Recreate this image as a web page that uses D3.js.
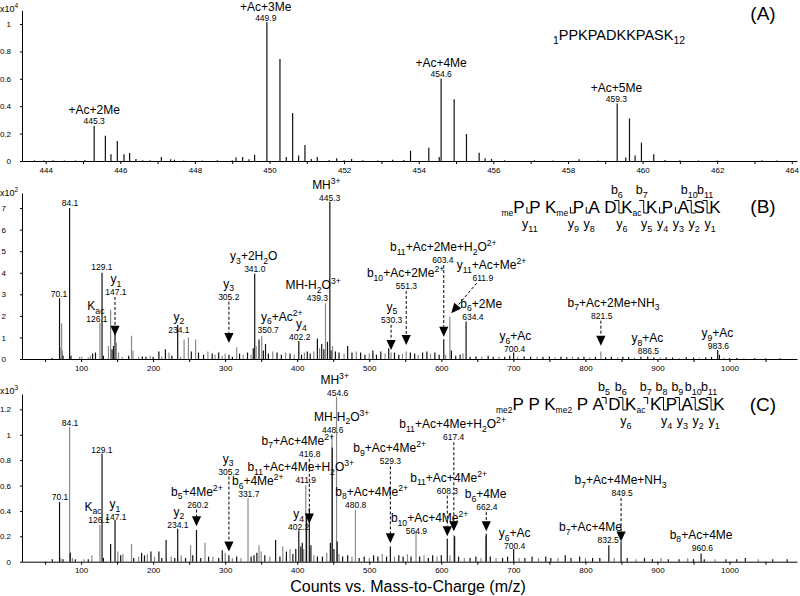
<!DOCTYPE html>
<html>
<head>
<meta charset="utf-8">
<script src="https://cdn.jsdelivr.net/npm/d3@7"></script>
<style>
	body { margin: 0; background: #fff; }
	svg { display: block; }
	text { font-family: "Liberation Sans", Arial, Helvetica, sans-serif; fill: #000; }
</style>
</head>
<body>
<div class="canva"></div>
<script>
// ---- panel A: precursor isotope clusters (x10^4) ----
const peaksA = [
	[443.7, 0.005], [443.95, 0.004], [444.2, 0.005], [444.5, 0.004], [444.8, 0.004], [445.05, 0.006],
	[445.3, 0.255], [445.6, 0.185], [445.75, 0.05], [445.92, 0.146], [446.1, 0.05], [446.25, 0.058],
	[446.42, 0.015], [446.6, 0.006], [446.8, 0.005], [447.1, 0.03], [447.35, 0.012], [447.45, 0.01],
	[447.7, 0.004], [448.2, 0.004], [448.6, 0.005], [449.0, 0.006], [449.1, 0.025], [449.28, 0.03],
	[449.45, 0.012], [449.6, 0.045], [449.93, 1.015], [450.28, 0.745], [450.45, 0.03], [450.62, 0.35],
	[450.78, 0.04], [450.95, 0.117], [451.12, 0.015], [451.28, 0.03], [451.6, 0.008], [451.8, 0.02],
	[452.0, 0.006], [452.2, 0.015], [452.5, 0.006], [452.9, 0.004], [453.3, 0.01], [453.6, 0.008],
	[453.78, 0.075], [454.27, 0.097], [454.55, 0.03], [454.6, 0.6], [454.95, 0.45], [455.28, 0.197],
	[455.62, 0.06], [455.78, 0.02], [455.95, 0.015], [456.3, 0.005], [457.1, 0.006], [457.6, 0.004],
	[458.3, 0.012], [458.8, 0.004], [459.32, 0.42], [459.55, 0.025], [459.65, 0.31], [459.8, 0.04],
	[459.97, 0.134], [460.3, 0.05], [460.6, 0.008], [461.0, 0.005], [461.5, 0.004], [462.0, 0.004],
	[463.2, 0.006], [463.6, 0.004]
];
const labelsA = [
	{ mz: 445.3, name: "+Ac+2Me", num: "445.3", at: [445.3, 0.29] },
	{ mz: 449.9, name: "+Ac+3Me", num: "449.9", at: [449.9, 1.045] },
	{ mz: 454.6, name: "+Ac+4Me", num: "454.6", at: [454.6, 0.635] },
	{ mz: 459.3, name: "+Ac+5Me", num: "459.3", at: [459.3, 0.453] }
];

// ---- panel B: MS/MS of 445.3 (x10^2), colour 1 = black, 2 = grey ----
const peaksB = [
	[60, 0.05, 1], [70.1, 2.82, 1], [72, 0.55, 2], [73, 1.65, 2], [74, 0.4, 2], [75, 0.15, 1], [84.1, 7.0, 1],
	[86, 0.15, 1], [98, 0.1, 2], [101, 0.12, 2], [110, 0.08, 2], [113, 0.15, 2], [116, 0.25, 1], [120, 0.3, 1],
	[126.1, 1.67, 2], [129.1, 4.0, 1], [131, 0.15, 1], [138, 0.6, 2], [141, 2.28, 2], [143, 0.45, 1],
	[145, 0.6, 1], [147.1, 1.5, 1], [149, 0.75, 2], [152, 0.3, 2], [157, 0.1, 2], [166, 0.15, 1],
	[170, 1.08, 2], [172, 0.4, 2], [180, 0.1, 2], [185, 0.12, 1], [190, 0.1, 1], [196, 0.15, 2],
	[200, 0.1, 1], [208, 0.35, 1], [212, 0.12, 2], [217, 0.45, 1], [222, 0.3, 2], [226, 0.15, 1],
	[234.1, 1.58, 1], [238, 0.1, 2], [243, 0.9, 2], [249, 1.0, 2], [253, 0.35, 1], [259, 0.9, 2],
	[263, 0.3, 1], [270, 0.2, 1], [276, 0.35, 2], [282, 0.25, 1], [286, 0.2, 2], [291, 0.3, 1],
	[296, 0.15, 2], [300, 0.25, 2], [305.2, 0.2, 1], [310, 0.1, 1], [316, 0.55, 2], [320, 0.25, 1],
	[325, 0.2, 2], [331, 0.3, 1], [336, 0.2, 2], [339, 0.5, 1], [341.0, 3.95, 1], [343, 0.6, 2],
	[347, 0.9, 1], [350.7, 1.08, 2], [353, 0.4, 1], [356, 0.7, 1], [360, 0.25, 1], [366, 0.35, 2],
	[372, 0.3, 1], [378, 0.2, 1], [384, 0.3, 2], [390, 0.25, 1], [396, 0.2, 2], [402.2, 0.84, 1],
	[406, 0.2, 1], [410, 0.3, 2], [414, 0.35, 1], [418, 0.25, 1], [423, 0.35, 2], [428, 0.95, 1],
	[431, 0.5, 2], [434, 0.7, 1], [437, 0.45, 1], [439.3, 2.59, 2], [442, 0.8, 1], [445.3, 7.29, 1],
	[447, 0.4, 1], [449, 0.6, 2], [453, 0.35, 1], [458, 0.3, 1], [465, 0.25, 2], [470, 0.6, 1],
	[476, 0.3, 1], [482, 0.35, 2], [488, 0.3, 1], [494, 0.2, 1], [500, 0.25, 2], [505, 0.4, 1],
	[510, 0.2, 1], [516, 0.35, 1], [522, 0.25, 2], [527, 0.5, 1], [530.3, 0.3, 2], [535, 0.3, 1],
	[541, 0.2, 1], [546, 0.25, 2], [551.3, 0.35, 2], [557, 0.3, 1], [563, 0.25, 1], [568, 0.2, 2],
	[574, 0.3, 1], [580, 0.35, 1], [585, 0.25, 2], [591, 0.3, 1], [597, 0.2, 1], [603.4, 0.92, 1],
	[606, 0.2, 2], [611.9, 1.97, 2], [614, 0.4, 1], [620, 0.15, 1], [626, 0.2, 1], [630, 0.25, 2],
	[634.4, 1.74, 1], [640, 0.1, 1], [648, 0.12, 1], [656, 0.1, 2], [665, 0.15, 1], [672, 0.1, 1],
	[680, 0.12, 2], [688, 0.1, 1], [695, 0.15, 1], [700.4, 0.3, 1], [706, 0.1, 2], [715, 0.12, 1],
	[724, 0.1, 1], [733, 0.12, 2], [741, 0.1, 1], [750, 0.12, 1], [758, 0.08, 2], [766, 0.1, 1],
	[774, 0.08, 1], [782, 0.12, 2], [790, 0.08, 1], [798, 0.1, 1], [806, 0.08, 2], [814, 0.1, 1],
	[821.5, 0.35, 2], [828, 0.08, 1], [836, 0.1, 1], [845, 0.08, 2], [852, 0.1, 1], [860, 0.08, 1],
	[868, 0.07, 2], [877, 0.1, 1], [886.5, 0.12, 1], [895, 0.08, 1], [904, 0.07, 2], [912, 0.08, 1],
	[921, 0.07, 1], [930, 0.06, 2], [940, 0.08, 1], [950, 0.07, 1], [958, 0.06, 2], [967, 0.08, 1],
	[975, 0.1, 1], [983.6, 0.42, 1], [986, 0.2, 1], [992, 0.06, 2], [1000, 0.05, 1], [1010, 0.05, 1],
	[1020, 0.04, 2], [1035, 0.04, 1], [1050, 0.03, 1], [1070, 0.03, 1]
];
const labelsB = [
	{ mz: 84.1, num: "84.1", at: [84.6, 7.22] },
	{ mz: 70.1, num: "70.1", at: [69.3, 3.01] },
	{ mz: 129.1, num: "129.1", at: [128.9, 4.25] },
	{ mz: 126.1, name: "K_{ac}", num: "126.1", at: [122, 1.86], nameMz: 120.6 },
	{ mz: 147.1, name: "y_{1}", num: "147.1", at: [148.4, 3.11], nameMz: 148.4, tip: 1.08 },
	{ mz: 234.1, name: "y_{2}", num: "234.1", at: [235.7, 1.35], nameMz: 235.7 },
	{ mz: 305.2, name: "y_{3}", num: "305.2", at: [305, 2.89], nameMz: 305, tip: 0.74 },
	{ mz: 341.0, name: "y_{3}+2H_{2}O", num: "341.0", at: [341.1, 4.17], nameMz: 339.7 },
	{ mz: 350.7, name: "y_{6}+Ac^{2+}", num: "350.7", at: [359.6, 1.35], nameMz: 378.6 },
	{ mz: 402.2, name: "y_{4}", num: "402.2", at: [403.5, 1.03], nameMz: 405.9 },
	{ mz: 439.3, name: "MH-H_{2}O^{3+}", num: "439.3", at: [428.1, 2.82], nameMz: 422 },
	{ mz: 445.3, name: "MH^{3+}", num: "445.3", at: [445.1, 7.45], nameMz: 440.5 },
	{ mz: 530.3, name: "y_{5}", num: "530.3", at: [531.1, 1.82], nameMz: 531.5, tip: 0.42 },
	{ mz: 551.3, name: "b_{10}+Ac+2Me^{2+}", num: "551.3", at: [551.5, 3.39], nameMz: 550.5, tip: 0.65 },
	{ mz: 603.4, name: "b_{11}+Ac+2Me+H_{2}O^{2+}", num: "603.4", at: [602.2, 4.59], nameMz: 602.8, tip: 1.03 },
	{ mz: 611.9, name: "y_{11}+Ac+Me^{2+}", num: "611.9", at: [657.7, 3.74], nameMz: 669.8, from: [649, 3.52], to: [613.9, 2.12] },
	{ mz: 634.4, name: "b_{6}+2Me", num: "634.4", at: [643.8, 1.96], nameMz: 655.5 },
	{ mz: 700.4, name: "y_{6}+Ac", num: "700.4", at: [701.7, 0.46], nameMz: 702.8 },
	{ mz: 821.5, name: "b_{7}+Ac+2Me+NH_{3}", num: "821.5", at: [822.7, 2.01], nameMz: 839, tip: 0.62 },
	{ mz: 886.5, name: "y_{8}+Ac", num: "886.5", at: [887.5, 0.37], nameMz: 886.1 },
	{ mz: 983.6, name: "y_{9}+Ac", num: "983.6", at: [984.6, 0.6], nameMz: 983.2 }
];

// ---- panel C: MS/MS of 454.6 (x10^3) ----
const peaksC = [
	[60, 0.02, 1], [70.1, 0.47, 1], [72, 0.03, 2], [75, 0.02, 1], [84.1, 1.06, 2], [85, 0.07, 1], [88, 0.03, 2],
	[92, 0.02, 1], [104, 0.02, 2], [110, 0.02, 1], [115, 0.05, 2], [126.1, 0.29, 2], [129.1, 0.85, 1],
	[131, 0.03, 1], [141, 0.14, 1], [147.1, 0.33, 1], [151, 0.08, 2], [155, 0.05, 1], [158, 0.06, 2],
	[170, 0.14, 2], [173, 0.03, 1], [180, 0.04, 2], [184, 0.07, 1], [188, 0.05, 1], [192, 0.06, 2],
	[197, 0.08, 1], [202, 0.04, 2], [208, 0.08, 1], [212, 0.03, 1], [218, 0.17, 1], [225, 0.04, 2],
	[230, 0.03, 1], [234.1, 0.26, 1], [239, 0.05, 2], [245, 0.03, 1], [252, 0.13, 2], [255, 0.05, 1],
	[260.2, 0.25, 1], [266, 0.03, 1], [272, 0.15, 2], [277, 0.04, 1], [283, 0.04, 2], [291, 0.03, 1],
	[296, 0.09, 1], [300, 0.07, 2], [305.2, 0.05, 1], [310, 0.03, 2], [316, 0.04, 1], [322, 0.03, 2],
	[331.7, 0.5, 2], [336, 0.04, 1], [340, 0.05, 1], [344, 0.07, 1], [347, 0.13, 2], [350, 0.08, 2],
	[355, 0.05, 1], [362, 0.04, 2], [370, 0.17, 1], [376, 0.04, 1], [380, 0.12, 2], [385, 0.08, 1],
	[390, 0.1, 2], [394, 0.06, 1], [398, 0.1, 1], [402.2, 0.245, 1], [405, 0.12, 1], [407, 0.15, 1],
	[409, 0.1, 2], [411.9, 0.6, 2], [413, 0.38, 1], [416.8, 0.42, 1], [419, 0.13, 1], [423, 0.05, 2],
	[428, 0.04, 1], [435, 0.04, 1], [441, 0.07, 2], [446, 0.15, 1], [448.3, 1.0, 2], [448.6, 0.9, 1],
	[451, 0.1, 1], [454.6, 1.3, 2], [455.5, 0.16, 1], [458, 0.06, 2], [463, 0.04, 1], [470, 0.05, 1],
	[476, 0.04, 2], [480.8, 0.41, 2], [486, 0.03, 1], [493, 0.04, 1], [500, 0.03, 2], [506, 0.05, 1],
	[512, 0.04, 1], [518, 0.06, 2], [524, 0.04, 1], [529.3, 0.12, 1], [535, 0.04, 2], [541, 0.05, 1],
	[547, 0.04, 1], [553, 0.06, 2], [558, 0.04, 1], [564.9, 0.24, 2], [570, 0.04, 1], [576, 0.05, 2],
	[582, 0.03, 1], [588, 0.05, 1], [594, 0.04, 2], [600, 0.05, 1], [608.3, 0.18, 1], [612, 0.05, 2],
	[617.4, 0.21, 2], [618.5, 0.2, 1], [624, 0.04, 1], [632, 0.03, 2], [640, 0.03, 1], [648, 0.04, 1],
	[655, 0.03, 2], [661.5, 0.2, 2], [662.4, 0.22, 1], [668, 0.04, 1], [676, 0.03, 2], [685, 0.03, 1],
	[692, 0.04, 1], [700.4, 0.1, 1], [708, 0.03, 2], [716, 0.03, 1], [726, 0.04, 1], [735, 0.03, 2],
	[745, 0.04, 1], [752, 0.03, 1], [762, 0.03, 2], [772, 0.05, 1], [780, 0.03, 1], [792, 0.04, 1],
	[800, 0.03, 2], [810, 0.03, 1], [820, 0.03, 1], [832.5, 0.13, 1], [840, 0.03, 2], [849.5, 0.16, 1],
	[858, 0.03, 1], [870, 0.02, 2], [882, 0.03, 1], [893, 0.02, 1], [905, 0.03, 2], [915, 0.02, 1],
	[930, 0.02, 1], [942, 0.03, 2], [950, 0.02, 1], [960.6, 0.065, 1], [965, 0.02, 1], [980, 0.02, 2],
	[995, 0.02, 1], [1010, 0.02, 1], [1022, 0.03, 1], [1040, 0.02, 2], [1060, 0.02, 1], [1080, 0.02, 1]
];
const labelsC = [
	{ mz: 84.1, num: "84.1", at: [84.6, 1.09] },
	{ mz: 129.1, num: "129.1", at: [128.9, 0.88] },
	{ mz: 70.1, num: "70.1", at: [70.7, 0.51] },
	{ mz: 126.1, name: "K_{ac}", num: "126.1", at: [124.8, 0.33], nameMz: 116.5 },
	{ mz: 147.1, name: "y_{1}", num: "147.1", at: [148.4, 0.35], nameMz: 147 },
	{ mz: 234.1, name: "y_{2}", num: "234.1", at: [234.3, 0.29], nameMz: 235.7 },
	{ mz: 260.2, name: "b_{5}+4Me^{2+}", num: "260.2", at: [262.1, 0.45], nameMz: 260.7, tip: 0.28 },
	{ mz: 305.2, name: "y_{3}", num: "305.2", at: [305.1, 0.71], nameMz: 304.1, tip: 0.08 },
	{ mz: 331.7, name: "b_{6}+4Me^{2+}", num: "331.7", at: [332.8, 0.53], nameMz: 345.3 },
	{ mz: 411.9, name: "b_{11}+Ac+4Me+H_{2}O^{3+}", num: "411.9", at: [411.8, 0.64], nameMz: 404.9 },
	{ mz: 416.8, name: "b_{7}+Ac+4Me^{2+}", num: "416.8", at: [417.4, 0.85], nameMz: 400.8, tip: 0.3 },
	{ mz: 402.2, name: "y_{4}", num: "402.2", at: [402.1, 0.27], nameMz: 402.1 },
	{ mz: 448.6, name: "MH-H_{2}O^{3+}", num: "448.6", at: [449.3, 1.04], nameMz: 461.8 },
	{ mz: 454.6, name: "MH^{3+}", num: "454.6", at: [456.2, 1.33], nameMz: 452 },
	{ mz: 529.3, name: "b_{9}+Ac+4Me^{2+}", num: "529.3", at: [529.3, 0.79], nameMz: 528.3, tip: 0.145 },
	{ mz: 480.8, name: "b_{8}+Ac+4Me^{2+}", num: "480.8", at: [481.2, 0.45], nameMz: 503.4 },
	{ mz: 617.4, name: "b_{11}+Ac+4Me+H_{2}O^{2+}", num: "617.4", at: [617.1, 0.98], nameMz: 615.7, tip: 0.24 },
	{ mz: 608.3, name: "b_{11}+Ac+4Me^{2+}", num: "608.3", at: [608.4, 0.56], nameMz: 610.2, tip: 0.2 },
	{ mz: 564.9, name: "b_{10}+Ac+4Me^{2+}", num: "564.9", at: [565.4, 0.24], nameMz: 583.8 },
	{ mz: 662.4, name: "b_{6}+4Me", num: "662.4", at: [663.3, 0.43], nameMz: 661.5, tip: 0.24 },
	{ mz: 700.4, name: "y_{6}+Ac", num: "700.4", at: [701.7, 0.12], nameMz: 701.7 },
	{ mz: 849.5, name: "b_{7}+Ac+4Me+NH_{3}", num: "849.5", at: [851, 0.54], nameMz: 848.7, tip: 0.16 },
	{ mz: 832.5, name: "b_{7}+Ac+4Me", num: "832.5", at: [831.6, 0.17], nameMz: 807.1 },
	{ mz: 960.6, name: "b_{8}+Ac+4Me", num: "960.6", at: [962.4, 0.11], nameMz: 960.6 }
];

// sequence + fragment maps
const residues = ["P", "P", "K", "P", "A", "D", "K", "K", "P", "A", "S", "K"];
const modsB = { pre: "me", sub: { 2: "me", 6: "ac" } };
const modsC = { pre: "me2", sub: { 2: "me2", 6: "ac" } };
const bIonsB = [6, 7, 10, 11];
const yIonsB = [11, 9, 8, 6, 5, 4, 3, 2, 1];
const bIonsC = [5, 6, 7, 8, 9, 10, 11];
const yIonsC = [6, 4, 3, 2, 1];

// axis ticks
const xTicksA = d3.range(444, 465, 1);
const xLabA = [444, 446, 448, 450, 452, 454, 456, 458, 460, 462, 464];
const xTicksBC = d3.range(50, 1051, 50);
const xLabBC = [100, 200, 300, 400, 500, 600, 700, 800, 900, 1000];
const yTicksA = [0, 0.2, 0.4, 0.6, 0.8, 1];
const yTicksB = [0, 1, 2, 3, 4, 5, 6, 7];
const yTicksC = [0, 0.2, 0.4, 0.6, 0.8, 1, 1.2];

const svg = d3.select(".canva").append("svg").attr("width", 800).attr("height", 596);
svg.append("rect").attr("width", 800).attr("height", 596).attr("fill", "#fff");

// text with _{sub} and ^{sup}
function rich(sel, str, fs) {
	const re = /([_^])\{([^}]*)\}|([^_^]+)/g;
	let m, cur = 0;
	while ((m = re.exec(str)) !== null) {
		let t = 0, size = fs, txt = m[3];
		if (m[1]) {
			t = m[1] === "_" ? fs * 0.3 : -fs * 0.42;
			size = fs * 0.72;
			txt = m[2];
		}
		sel.append("tspan").attr("dy", t - cur).attr("font-size", size).text(txt);
		cur = t;
	}
	return sel;
}

function arrow(g, x1, y1, x2, y2) {
	const ang = Math.atan2(y2 - y1, x2 - x1);
	const h = 10, w = 4.6;
	const bx = x2 - h * Math.cos(ang), by = y2 - h * Math.sin(ang);
	g.append("line")
		.attr("x1", x1).attr("y1", y1).attr("x2", bx).attr("y2", by)
		.attr("stroke", "#000").attr("stroke-width", 1).attr("stroke-dasharray", "3,2");
	const sx = Math.sin(ang), cx = Math.cos(ang);
	g.append("path")
		.attr("d", `M${x2},${y2}L${bx + w * sx},${by - w * cx}L${bx - w * sx},${by + w * cx}Z`)
		.attr("fill", "#000");
}

function drawPanel(p) {
	const g = svg.append("g");
	const x = d3.scaleLinear().domain(p.xDomain).range([22, 797]);
	const y = d3.scaleLinear().domain(p.yDomain).range([p.base, p.top]);

	g.append("g").selectAll("line")
		.data(p.peaks)
		.join("line")
		.attr("x1", (d) => x(d[0])).attr("x2", (d) => x(d[0]))
		.attr("y1", y(0)).attr("y2", (d) => y(d[1]))
		.attr("stroke", (d) => (d[2] === 2 ? "#8a8a8a" : "#111"))
		.attr("stroke-width", 1.2);

	const xa = g.append("g")
		.attr("transform", `translate(0,${p.base})`)
		.call(d3.axisBottom(x).tickValues(p.xTicks)
			.tickFormat((d) => (p.xLab.includes(d) ? d : ""))
			.tickSize(3).tickSizeOuter(0));
	const ya = g.append("g")
		.attr("transform", "translate(22,0)")
		.call(d3.axisLeft(y).tickValues(p.yTicks)
			.tickFormat((d) => String(+d.toFixed(1)))
			.tickSize(2).tickPadding(p.yPad).tickSizeOuter(0));
	[xa, ya].forEach((a) => {
		a.select(".domain").attr("stroke", "#000");
		a.selectAll(".tick line").attr("stroke", "#000");
		a.selectAll("text").attr("font-size", 8).attr("font-family", null);
	});

	rich(g.append("text").attr("x", 0).attr("y", p.expY), "x10^{" + p.exp + "}", 9);

	p.labels.forEach((n) => {
		const nx = x(n.at[0]), ny = y(n.at[1]);
		g.append("text").attr("x", nx).attr("y", ny + 3)
			.attr("text-anchor", "middle").attr("font-size", 8.5).text(n.num);
		if (n.name) {
			const t = g.append("text")
				.attr("x", x(n.nameMz != null ? n.nameMz : n.at[0]))
				.attr("y", ny - p.nameGap)
				.attr("text-anchor", "middle").attr("font-size", 12);
			rich(t, n.name, 12);
		}
		if (n.tip != null) arrow(g, x(n.mz), ny + 5, x(n.mz), y(n.tip));
		if (n.from) arrow(g, x(n.from[0]), y(n.from[1]), x(n.to[0]), y(n.to[1]));
	});
	return g;
}

function drawSeq(x0, base, mods, bIons, yIons) {
	const g = svg.append("g");
	const gap = 4.5, fs = 17, sub = 8.5;
	const edges = [];
	let cx = x0;
	residues.forEach((aa, i) => {
		if (i === 0 && mods.pre) {
			const s = g.append("text").attr("x", cx).attr("y", base + 3).attr("font-size", sub).text(mods.pre);
			cx += s.node().getComputedTextLength();
		}
		const t = g.append("text").attr("x", cx).attr("y", base).attr("font-size", fs).text(aa);
		cx += t.node().getComputedTextLength();
		if (mods.sub[i]) {
			const s = g.append("text").attr("x", cx).attr("y", base + 3).attr("font-size", sub).text(mods.sub[i]);
			cx += s.node().getComputedTextLength();
		}
		edges.push(cx);
		cx += gap;
	});
	const top = base - 12.5, mid = base - 6;
	bIons.forEach((n) => {
		const gx = edges[n - 1] + gap / 2;
		g.append("path").attr("d", `M${gx - 4.5},${top}H${gx}V${mid}`)
			.attr("fill", "none").attr("stroke", "#000").attr("stroke-width", 1);
		rich(g.append("text").attr("x", gx - 2).attr("y", base - 19)
			.attr("text-anchor", "middle").attr("font-size", 12.5), "b_{" + n + "}", 12.5);
	});
	yIons.forEach((n) => {
		const gx = edges[11 - n] + gap / 2;
		g.append("path").attr("d", `M${gx},${mid}V${base}H${gx + 4.5}`)
			.attr("fill", "none").attr("stroke", "#000").attr("stroke-width", 1);
		rich(g.append("text").attr("x", gx + 3).attr("y", base + 15)
			.attr("text-anchor", "middle").attr("font-size", 12.5), "y_{" + n + "}", 12.5);
	});
}

drawPanel({
	peaks: peaksA, labels: labelsA,
	xDomain: [443.365, 464.14], yDomain: [0, 1.1], base: 161, top: 10.3,
	xTicks: xTicksA, xLab: xLabA, yTicks: yTicksA, yPad: 9,
	exp: 4, expY: 12, nameGap: 7
});
drawPanel({
	peaks: peaksB, labels: labelsB,
	xDomain: [18, 1093.7], yDomain: [0, 7.7], base: 359, top: 193,
	xTicks: xTicksBC, xLab: xLabBC, yTicks: yTicksB, yPad: 14,
	exp: 2, expY: 196, nameGap: 9
});
drawPanel({
	peaks: peaksC, labels: labelsC,
	xDomain: [18, 1093.7], yDomain: [0, 1.32], base: 561.7, top: 394.1,
	xTicks: xTicksBC, xLab: xLabBC, yTicks: yTicksC, yPad: 9,
	exp: 3, expY: 394, nameGap: 9
});

// peptide titles
rich(svg.append("text").attr("x", 619).attr("y", 40).attr("text-anchor", "middle").attr("font-size", 14.5),
	"_{1}PPKPADKKPASK_{12}", 14.5);
drawSeq(501.5, 213, modsB, bIonsB, yIonsB);
drawSeq(496, 410, modsC, bIonsC, yIonsC);

// panel tags
[["(A)", 20], ["(B)", 213], ["(C)", 411]].forEach(([t, yy]) => {
	svg.append("text").attr("x", 763).attr("y", yy).attr("text-anchor", "middle").attr("font-size", 19).text(t);
});

svg.append("text").attr("x", 408).attr("y", 592).attr("text-anchor", "middle")
	.attr("font-size", 16).text("Counts vs. Mass-to-Charge (m/z)");
</script>
</body>
</html>
